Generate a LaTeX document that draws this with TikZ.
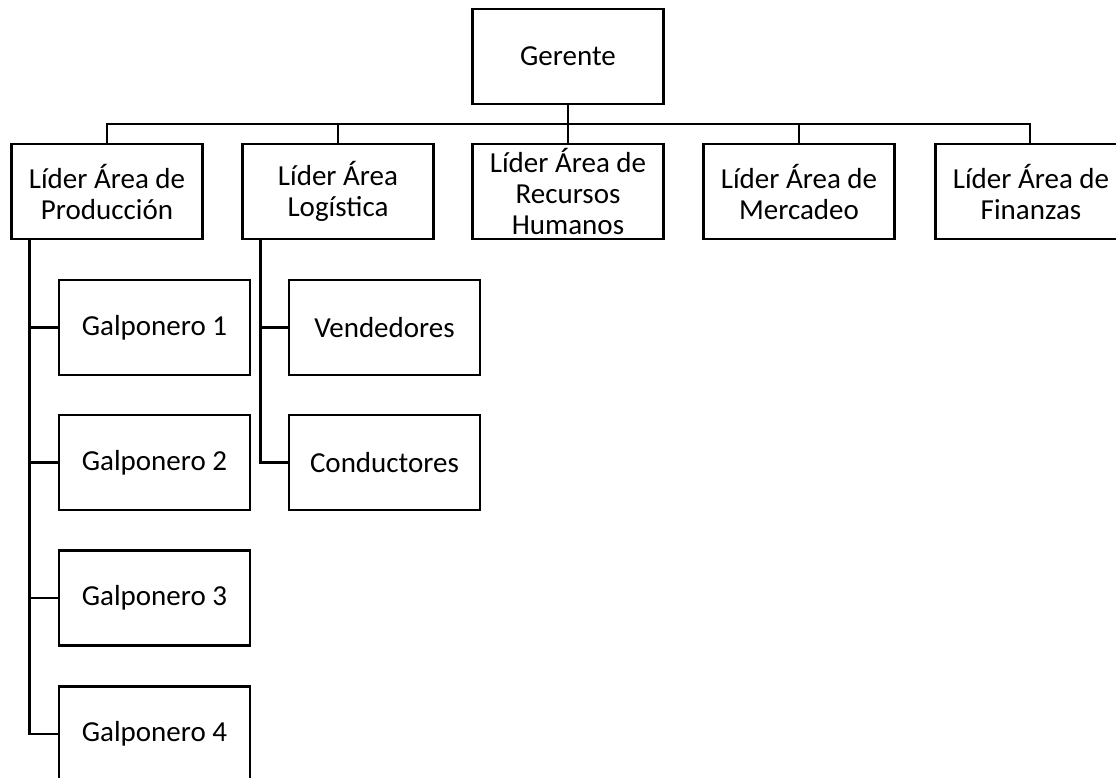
\documentclass[tikz,border=0pt]{standalone}
\usepackage{fontspec}
\setmainfont{Carlito}
\begin{document}
\begin{tikzpicture}[x=1pt,y=-1pt,
  box/.style={draw=black, line width=2.6pt, minimum width=191pt, minimum height=95pt,
    inner sep=0pt, align=center, font=\fontsize{29}{31}\selectfont},
  conn/.style={draw=black, line width=2.6pt}]
\useasboundingbox (0,0) rectangle (1116,778);
\fill[white] (0,0) rectangle (1116,778);
% top
\node[box] (ger) at (568,56.5) {Gerente};
% level 2
\node[box] (prod) at (107,191.5) {Líder Área de\\Producción};
\node[box] (log)  at (338,191.5) {Líder Área\\Logística};
\node[box] (rrhh) at (568,191.5) {Líder Área de\\Recursos\\Humanos};
\node[box] (merc) at (799,191.5) {Líder Área de\\Mercadeo};
\node[box] (fin)  at (1031,191.5) {Líder Área de\\Finanzas};
% level 3
\node[box] (g1) at (154.5,327.5) {Galponero 1};
\node[box] (g2) at (154.5,462.5) {Galponero 2};
\node[box] (g3) at (154.5,598) {Galponero 3};
\node[box] (g4) at (154.5,734) {Galponero 4};
\node[box] (vend) at (384.5,327.5) {Vendedores};
\node[box] (cond) at (384.5,462.5) {Conductores};
% connectors
\coordinate (bus) at (568,124);
\draw[conn] (ger.south) -- (bus);
\draw[conn] (bus) -| (prod.north);
\draw[conn] (bus) -| (log.north);
\draw[conn] (bus) -- (rrhh.north);
\draw[conn] (bus) -| (merc.north);
\draw[conn] (bus) -| ([xshift=-1pt]fin.north);
\draw[conn] ([xshift=19pt]prod.south west) |- (g1.west);
\draw[conn] ([xshift=19pt]prod.south west) |- (g2.west);
\draw[conn] ([xshift=19pt]prod.south west) |- (g3.west);
\draw[conn] ([xshift=19pt]prod.south west) |- (g4.west);
\draw[conn] ([xshift=19pt]log.south west) |- (vend.west);
\draw[conn] ([xshift=19pt]log.south west) |- (cond.west);
\end{tikzpicture}
\end{document}
